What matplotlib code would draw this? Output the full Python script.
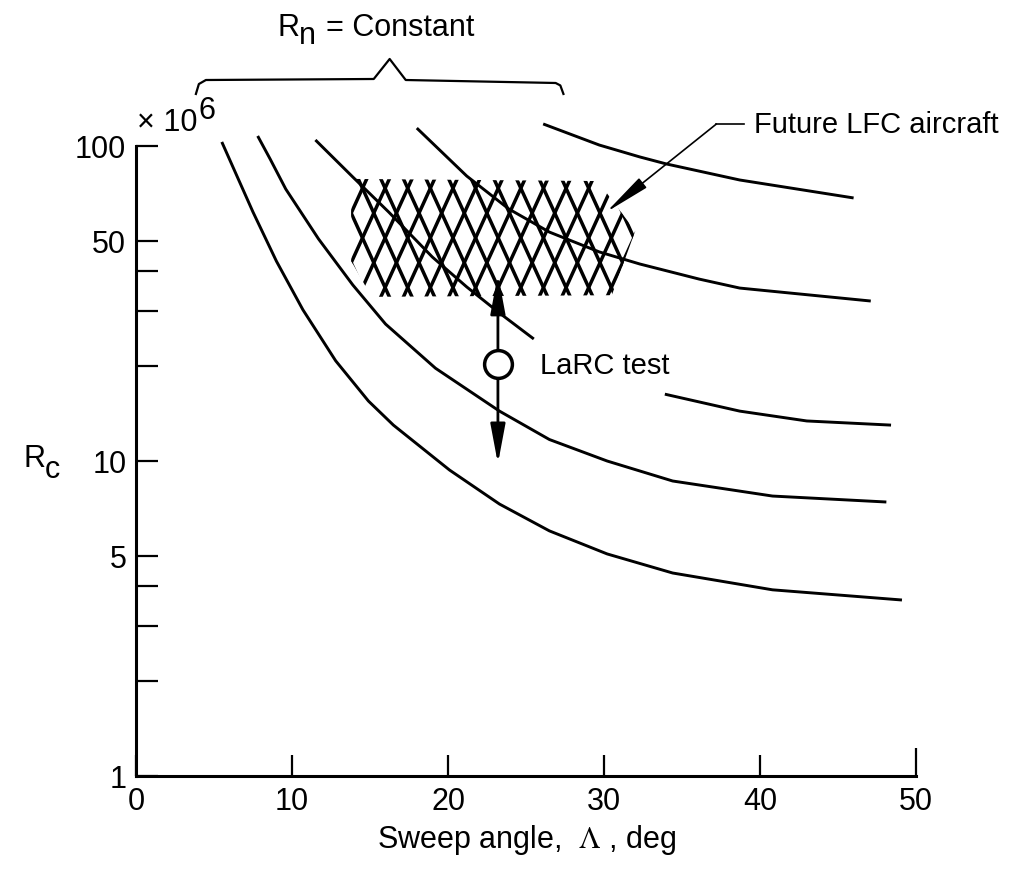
"""
Rc vs sweep angle chart (Rn = constant curves, LFC aircraft region, LaRC test point).
"""
import matplotlib
matplotlib.use("Agg")

import numpy as np
import matplotlib.pyplot as plt
from matplotlib.collections import LineCollection
from matplotlib.patches import Polygon

plt.rcParams["font.family"] = ["Liberation Sans", "DejaVu Sans"]
plt.rcParams["mathtext.fontset"] = "stix"

# Rn = constant curves: sweep angle (deg) vs Rc (x 10^6)
c1_x = [5.5, 6.5, 7.5, 9.0, 10.7, 12.8, 14.9, 16.5, 20.1, 23.3, 26.5, 30.2, 34.4, 40.8, 49.1]
c1_y = [103, 79.7, 61.7, 43.1, 30.2, 20.8, 15.5, 13.0, 9.36, 7.30, 6.00, 5.07, 4.41, 3.90, 3.62]

c2_x = [7.8, 8.6, 9.6, 11.7, 13.9, 16.0, 19.2, 23.3, 26.5, 30.2, 34.4, 40.8, 48.1]
c2_y = [107.6, 90.9, 73.0, 50.7, 36.2, 27.2, 19.7, 14.4, 11.7, 10.0, 8.64, 7.74, 7.41]

# third curve is broken by the "LaRC test" label
c3a_x = [11.5, 13.9, 16.2, 19.0, 21.2, 23.3, 25.5]
c3a_y = [104.5, 79.7, 61.7, 44.4, 35.7, 29.5, 24.4]
c3b_x = [33.9, 38.7, 43.0, 48.4]
c3b_y = [16.3, 14.4, 13.4, 13.0]

c4_x = [18.0, 21.2, 23.9, 26.5, 29.7, 32.3, 36.1, 38.7, 47.1]
c4_y = [114, 80.3, 63.1, 53.3, 46.1, 42.2, 37.8, 35.4, 32.2]

c5_x = [26.1, 29.7, 32.3, 34.0, 38.7, 46.0]
c5_y = [117.5, 100.7, 92.3, 87.7, 78.0, 68.4]

# future LFC aircraft region (cross-hatched)
hatch_x = [14.1, 29.6, 32.0, 30.5, 15.1, 13.8, 13.8]
hatch_y = [78.6, 77.4, 53.7, 33.6, 33.2, 43.1, 67.9]

# LaRC test point and its range
larc_x, larc_y = 23.2, 20.3
larc_up, larc_down = 39.2, 9.8

# axis ticks
y_ticks = [1, 2, 3, 4, 5, 10, 20, 30, 40, 50, 100]
y_labels = ["1", "", "", "", "5", "10", "", "", "", "50", "100"]
x_ticks = [0, 10, 20, 30, 40, 50]

# brace above the curves
brace_x = [3.84, 4.03, 4.48, 15.24, 16.26, 17.29, 26.9, 27.2, 27.4]
brace_y = [146.3, 157.3, 162.0, 163.2, 188.9, 162.0, 158.5, 155.7, 146.3]

W, H = 1021, 870
fig = plt.figure(figsize=(W / 100, H / 100), dpi=100)
ax = fig.add_axes([136 / W, (H - 777) / H, (916 - 136) / W, (777 - 147) / H])

ax.set_yscale("log")
ax.set_xlim(0, 50)
ax.set_ylim(1, 100)

for xs, ys in [(c1_x, c1_y), (c2_x, c2_y), (c3a_x, c3a_y), (c3b_x, c3b_y),
               (c4_x, c4_y), (c5_x, c5_y)]:
    ax.plot(xs, ys, color="black", lw=2.1, clip_on=False,
            solid_capstyle="butt", solid_joinstyle="round")

# cross-hatch: two families of steep parallel lines clipped to the region
hatch_poly = Polygon(np.column_stack([hatch_x, hatch_y]), closed=True,
                     facecolor="none", edgecolor="none")
ax.add_patch(hatch_poly)
vt = np.log10(max(hatch_y)) + 0.05
vb = np.log10(min(hatch_y)) - 0.05
slope = 9.2    # deg per decade along a hatch line
spacing = 1.45  # deg between parallel lines
run = slope * (vt - vb)
segs = []
for c in np.arange(min(hatch_x) - run, max(hatch_x) + run, spacing):
    segs.append([(c, 10 ** vt), (c + run, 10 ** vb)])
    segs.append([(c + run, 10 ** vt), (c, 10 ** vb)])
lc = LineCollection(segs, colors="black", linewidths=2.5)
ax.add_collection(lc)
lc.set_clip_path(hatch_poly)

# LaRC test point with up/down arrows
for tip in (larc_up, larc_down):
    ax.annotate("", xy=(larc_x, tip), xytext=(larc_x, larc_y),
                arrowprops=dict(arrowstyle="-|>,head_length=1.6,head_width=0.3",
                                lw=2.0, color="black", shrinkA=0, shrinkB=0,
                                mutation_scale=15))
ax.plot(larc_x, larc_y, "o", ms=20, mfc="white", mec="black", mew=2.5, zorder=5)
ax.text(25.9, 20.2, "LaRC test", fontsize=21, va="center", ha="left")

# Future LFC aircraft label + leader arrow
lead_x0, lead_x1, lead_y = 37.2, 39.0, 117.4
ax.annotate("", xy=(30.15, 61.7), xytext=(lead_x0, lead_y), annotation_clip=False,
            arrowprops=dict(arrowstyle="-|>,head_length=1.9,head_width=0.25",
                            lw=1.2, color="black", shrinkA=0, shrinkB=0,
                            mutation_scale=15))
ax.plot([lead_x0, lead_x1], [lead_y, lead_y], color="black", lw=1.2, clip_on=False)
ax.text(39.6, lead_y, "Future LFC aircraft", fontsize=21, va="center", ha="left")

# brace and Rn label
ax.plot(brace_x, brace_y, color="black", lw=1.6, clip_on=False)
fig.text(277 / W, 1 - 36 / H, "R", fontsize=22, va="baseline")
fig.text(299 / W, 1 - 44 / H, "n", fontsize=22, va="baseline")
fig.text(326 / W, 1 - 36 / H, "= Constant", fontsize=22, va="baseline")

# x 10^6 multiplier
fig.text(137 / W, 1 - 131 / H, "\u00d7 10", fontsize=22, va="baseline")
fig.text(198 / W, 1 - 119 / H, "6", fontsize=22, va="baseline")

# y label R_c
fig.text(24 / W, 1 - 467 / H, "R", fontsize=22, va="baseline")
fig.text(45 / W, 1 - 478 / H, "c", fontsize=22, va="baseline")

# x label
fig.text(527 / W, 1 - 840 / H, r"Sweep angle,  $\Lambda$ , deg", fontsize=22,
         ha="center", va="center")

# axes styling
for side in ("top", "right"):
    ax.spines[side].set_visible(False)
for side in ("left", "bottom"):
    ax.spines[side].set_linewidth(2.2)

ax.yaxis.set_minor_locator(matplotlib.ticker.NullLocator())
ax.set_yticks(y_ticks)
ax.set_yticklabels(y_labels)
ax.set_xticks(x_ticks)
ax.set_xticklabels([str(v) for v in x_ticks])
ax.tick_params(axis="y", direction="in", length=16, width=1.6, pad=7, labelsize=22)
ax.tick_params(axis="x", direction="in", length=15, width=1.6, pad=7, labelsize=22)
ax.xaxis.get_major_ticks()[-1].tick1line.set_markersize(20)

fig.savefig("out.png", dpi=100)
